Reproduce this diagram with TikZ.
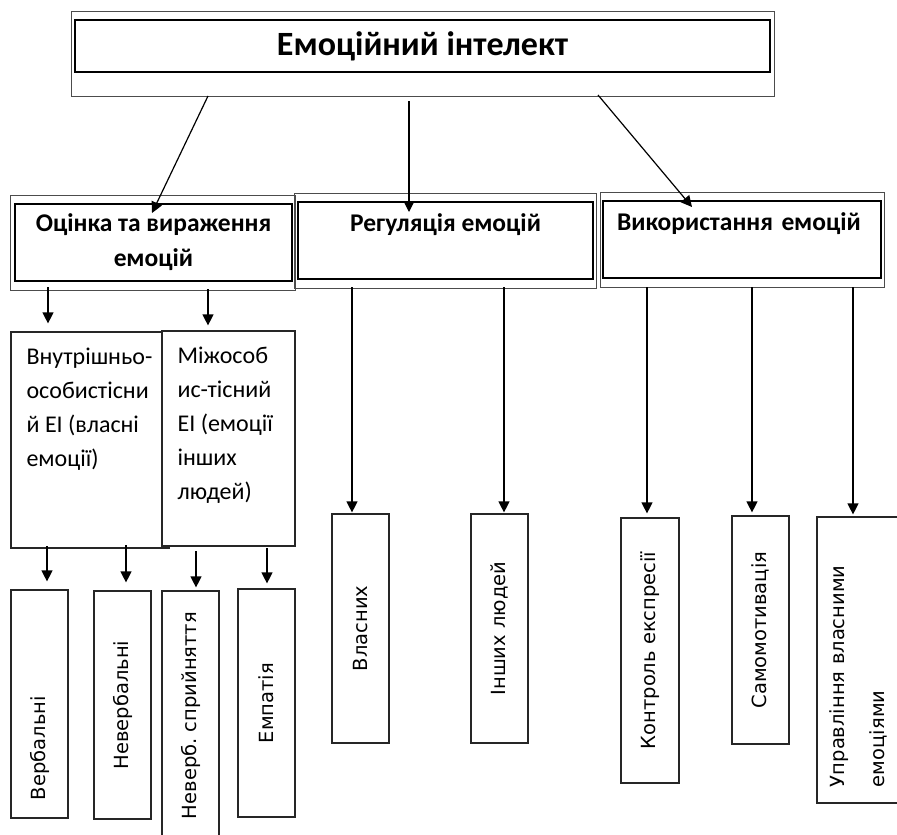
\documentclass[tikz,border=0pt]{standalone}
\usepackage{fontspec}
\setmainfont{Carlito}
\newfontfamily\vertfont{DejaVu Sans}
\usetikzlibrary{arrows.meta,positioning,calc}
\frenchspacing
\tikzstyle{outerbox} = [draw=black!70, line width=1pt, inner sep=0pt]
\tikzstyle{headbox} = [draw=black, line width=2.2pt, inner sep=0pt, align=center, font=\bfseries\fontsize{25.5}{35}\selectfont]
\tikzstyle{itembox} = [draw=black!85, line width=1.2pt, inner sep=0pt, fill=white]
\tikzstyle{itemtext} = [inner sep=0pt, anchor=north west, align=left, font=\fontsize{24}{34}\selectfont]
\tikzstyle{vertbox} = [itembox, rotate=90, align=center, font=\vertfont\fontsize{19.5}{40}\selectfont]
\tikzstyle{arrow} = [line width=1.2pt, -{Triangle[width=11pt,length=11pt]}]

\begin{document}
\begin{tikzpicture}[x=1pt,y=-1pt]
\useasboundingbox (0,0) rectangle (897,835);
% top level
\node (ei) at (422.5,53.5) [outerbox, minimum width=703, minimum height=85] {};
\node (eiin) at (422.5,46) [headbox, minimum width=695, minimum height=52, font=\bfseries\fontsize{34}{40}\selectfont] {Емоційний інтелект};
% second level
\node (ocin) at (152.5,242.5) [outerbox, minimum width=285, minimum height=95] {};
\node (ocinin) at (153.5,242.5) [headbox, minimum width=277, minimum height=77] {Оцінка та вираження\\емоцій};
\node (reg) at (445,240.5) [outerbox, minimum width=302, minimum height=95] {};
\node (regin) at (445.5,240.5) [headbox, minimum width=295, minimum height=77] {Регуляція емоцій\\\mbox{}};
\node (vyk) at (742,239.5) [outerbox, minimum width=284, minimum height=95] {};
\node (vykin) at (742,239.5) [headbox, minimum width=278, minimum height=77, text width=250, inner xsep=14, align=left] {Використання емоцій\\\mbox{}};
% third level
\node (vnutr) at (90,440) [itembox, minimum width=158, minimum height=216] {};
\node (mizh) at (228.5,438.5) [itembox, minimum width=133, minimum height=215] {};
\node (vnutrtext) at ($(vnutr.north west)+(16,16)$) [itemtext] {Внутрішньо-\\особистісни\\й ЕІ (власні\\емоції)};
\node (mizhtext) at ($(mizh.north west)+(16,16)$) [itemtext] {Міжособ\\ис-тісний\\ЕІ (емоції\\інших\\людей)};
% vertical boxes
\node (verb) at (39.5,704) [vertbox, minimum width=228, minimum height=57, text width=192, inner xsep=18, align=left] {Вербальні};
\node (neverb) at (122.5,705) [vertbox, minimum width=228, minimum height=57] {Невербальні};
\node (nsp) at (190.5,715.5) [vertbox, minimum width=249, minimum height=57] {Неверб. сприйняття};
\node (emp) at (266.5,703) [vertbox, minimum width=228, minimum height=57] {Емпатія};
\node (vlas) at (360.5,628.5) [vertbox, minimum width=229, minimum height=57] {Власних};
\node (insh) at (499.5,628.5) [vertbox, minimum width=229, minimum height=57] {Інших людей};
\node (kontr) at (650,650.5) [vertbox, minimum width=265, minimum height=58] {Контроль експресії};
\node (samo) at (760.5,630) [vertbox, minimum width=228, minimum height=57] {Самомотивація};
\node (upr) at (858,660) [vertbox, minimum width=286, minimum height=82, text width=254, inner xsep=16, align=left] {Управління власними\\емоціями};
% arrows
\coordinate (s1) at (208,96);
\coordinate (t1) at (152,213);
\coordinate (s2) at (409,101);
\coordinate (t2) at (409,212);
\coordinate (s3) at (598,95);
\coordinate (t3) at (692,207);
\draw[arrow] (s1)--(t1);
\draw[arrow] (s2)--(t2);
\draw[arrow] (s3)--(t3);
\coordinate (s4) at (48,287);
\coordinate (s5) at (208,289);
\coordinate (s6) at (352,287);
\coordinate (s7) at (504,287);
\coordinate (s8) at (647,287);
\coordinate (s9) at (752,287);
\coordinate (s10) at (853,287);
\draw[arrow, shorten >=8pt] (s4)--(vnutr.north -| s4);
\draw[arrow, shorten >=5pt] (s5)--(mizh.north -| s5);
\draw[arrow, shorten >=1pt] (s6)--(vlas.east -| s6);
\draw[arrow, shorten >=1pt] (s7)--(insh.east -| s7);
\draw[arrow, shorten >=4pt] (s8)--(kontr.east -| s8);
\draw[arrow, shorten >=3pt] (s9)--(samo.east -| s9);
\draw[arrow, shorten >=2pt] (s10)--(upr.east -| s10);
\coordinate (s11) at (47,546);
\coordinate (s12) at (126,545);
\coordinate (s13) at (196,551);
\coordinate (s14) at (267,548);
\draw[arrow, shorten >=8pt] (s11)--(verb.east -| s11);
\draw[arrow, shorten >=8pt] (s12)--(neverb.east -| s12);
\draw[arrow, shorten >=3pt] (s13)--(nsp.east -| s13);
\draw[arrow, shorten >=5pt] (s14)--(emp.east -| s14);
\end{tikzpicture}
\end{document}
